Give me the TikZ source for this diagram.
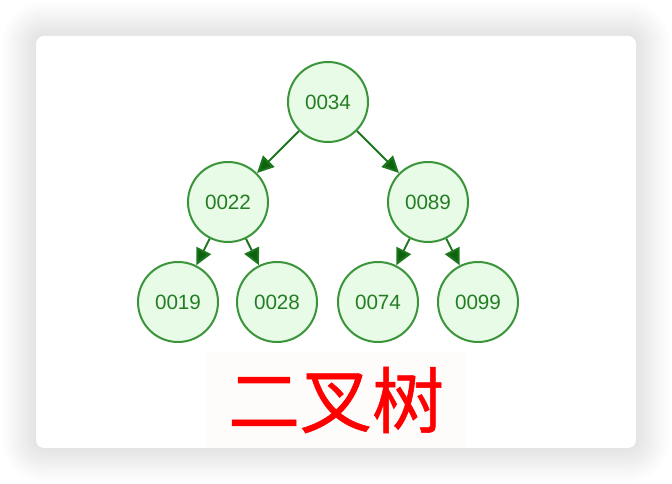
\documentclass[tikz,border=0pt]{standalone}
\usepackage{fontspec}
\setmainfont{Liberation Sans}
\newfontfamily\cjk[FakeBold=0.8]{Noto Sans CJK SC}
\usetikzlibrary{arrows.meta,shadows.blur}
\definecolor{nodefill}{HTML}{E8FBE6}
\definecolor{nodeline}{HTML}{3A943A}
\definecolor{nodetext}{HTML}{237E23}
\definecolor{edgegreen}{HTML}{1E761E}
\definecolor{tipgreen}{HTML}{0E620E}
\definecolor{titlebg}{HTML}{FDFCFA}

\begin{document}
\begin{tikzpicture}[
  x=0.75pt,y=-0.75pt,
  card/.style={draw=none,fill=white,rounded corners=6pt,
    minimum width=450pt,minimum height=309pt,inner sep=0pt,
    blur shadow={shadow xshift=0pt,shadow yshift=0pt,
      shadow blur radius=26pt,shadow opacity=22,shadow blur steps=16}},
  key/.style={circle,draw=nodeline,fill=nodefill,line width=1.5pt,
    minimum size=60pt,inner sep=0pt,text=nodetext,
    font=\fontsize{15.5}{17}\selectfont},
  link/.style={draw=edgegreen,line width=1.5pt,
    -{Triangle[length=12.5pt,width=12pt,fill=tipgreen]}},
  title/.style={fill=titlebg,text=red,inner sep=0pt,
    minimum width=195pt,minimum height=72pt,
    font=\cjk\fontsize{54}{62}\selectfont}
]
\useasboundingbox (0,0) rectangle (672,484);

% Card
\node[card] (bg) at (336,242) {};

% Root
\node[key] (k34) at (328,102) {0034};

% Second level
\node[key] (k22) at (228,202) {0022};
\node[key] (k89) at (428,202) {0089};

% Leaves
\node[key] (k19) at (178,302) {0019};
\node[key] (k28) at (277,302) {0028};
\node[key] (k74) at (378,302) {0074};
\node[key] (k99) at (478,302) {0099};

% Edges
\draw[link] (k34) -- (k22);
\draw[link] (k34) -- (k89);
\draw[link] (k22) -- (k19);
\draw[link] (k22) -- (k28);
\draw[link] (k89) -- (k74);
\draw[link] (k89) -- (k99);

% Caption
\node[title] (ttl) at (336,400) {二叉树};

\end{tikzpicture}
\end{document}
